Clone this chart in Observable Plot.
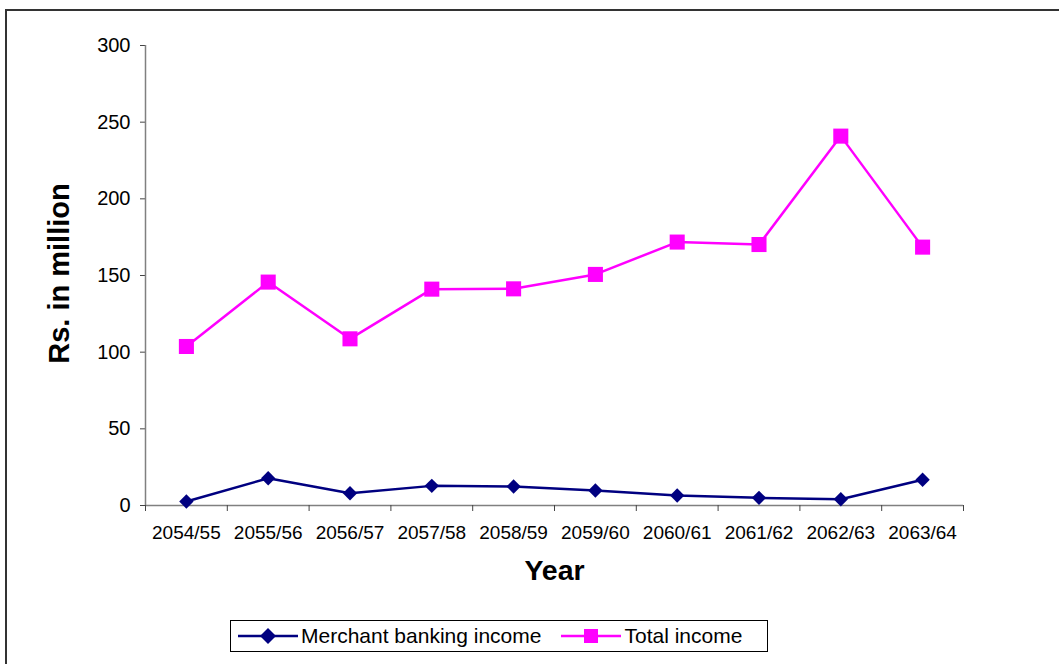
<!DOCTYPE html>
<html>
<head>
<meta charset="utf-8">
<script src="https://cdn.jsdelivr.net/npm/d3@7"></script>
<script src="https://cdn.jsdelivr.net/npm/@observablehq/plot@0.6"></script>
<style>
  html, body { margin: 0; padding: 0; background: #fff; }
  #wrap { position: relative; width: 1059px; height: 664px; overflow: hidden; font-family: "Liberation Sans", Arial, sans-serif; }
  #frame { position: absolute; left: 5px; top: 9px; width: 1200px; height: 800px; border-left: 2px solid #333; border-top: 2px solid #333; box-sizing: border-box; }
  #chart { position: absolute; left: 0; top: 0; }
  #legend { position: absolute; left: 230px; top: 620px; width: 538px; height: 32px; border: 1px solid #000; box-sizing: border-box; display: flex; align-items: center; font-size: 21px; color: #000; background: #fff; }
  #legend .item { display: flex; align-items: center; }
  #legend svg { display: block; }
</style>
</head>
<body>
<div id="wrap">
  <div id="frame"></div>
  <div id="chart"></div>
  <div id="legend"></div>
</div>
<script>
const years = ["2054/55","2055/56","2056/57","2057/58","2058/59","2059/60","2060/61","2061/62","2062/63","2063/64"];
const merchantIncome = [2.6, 17.8, 8.0, 12.8, 12.4, 9.8, 6.5, 5.0, 4.1, 16.8];
const totalIncome = [103.7, 145.7, 108.7, 141.1, 141.3, 150.7, 171.8, 170.2, 240.9, 168.5];
const yTicks = [0, 50, 100, 150, 200, 250, 300];
const seriesNames = ["Merchant banking income", "Total income"];
const seriesColors = ["#000080", "#FF00FF"];

const idx = years.map((_, i) => i);
const boundaries = d3.range(-0.5, years.length, 1);
const merchant = idx.map(i => ({i, v: merchantIncome[i]}));
const total = idx.map(i => ({i, v: totalIncome[i]}));

const diamond = {
  draw(context, size) {
    const r = Math.sqrt(size) / 2 * 1.35;
    context.moveTo(0, -r); context.lineTo(r, 0); context.lineTo(0, r); context.lineTo(-r, 0); context.closePath();
  }
};
const square = {
  draw(context, size) {
    const r = Math.sqrt(size) / 2;
    context.rect(-r, -r, 2 * r, 2 * r);
  }
};

const chart = Plot.plot({
  width: 1059,
  height: 610,
  marginLeft: 145,
  marginRight: 96,
  marginTop: 45,
  marginBottom: 105,
  style: { fontFamily: "'Liberation Sans', Arial, sans-serif", background: "transparent", color: "#000" },
  x: { type: "linear", domain: [-0.5, years.length - 0.5] },
  y: { domain: [0, 300] },
  marks: [
    Plot.axisY({ ticks: yTicks, tickSize: 5, tickPadding: 10, fontSize: 20, label: null, stroke: "#444" }),
    Plot.ruleX([0], { x: -0.5, y1: 0, y2: 300, stroke: "#808080", strokeWidth: 1.5 }),
    Plot.ruleY([0], { stroke: "#808080", strokeWidth: 1.5 }),
    Plot.axisX({ ticks: boundaries, tickFormat: () => "", tickSize: 6, label: null, stroke: "#444" }),
    Plot.axisX({ ticks: idx, tickFormat: i => years[i], tickSize: 0, tickPadding: 20, fontSize: 19, label: null }),
    Plot.text(["Rs. in million"], { frameAnchor: "left", textAnchor: "middle", rotate: -90, dx: -86, dy: -2, fontSize: 29, fontWeight: "bold" }),
    Plot.text(["Year"], { frameAnchor: "bottom", dy: 74, fontSize: 28.5, fontWeight: "bold" }),
    Plot.line(merchant, { x: "i", y: "v", stroke: seriesColors[0], strokeWidth: 2.5 }),
    Plot.dot(merchant, { x: "i", y: "v", symbol: diamond, r: 6, fill: seriesColors[0], stroke: null }),
    Plot.line(total, { x: "i", y: "v", stroke: seriesColors[1], strokeWidth: 2.5 }),
    Plot.dot(total, { x: "i", y: "v", symbol: square, r: 8.5, fill: seriesColors[1], stroke: null })
  ]
});
document.getElementById("chart").appendChild(chart);

// Legend
const legend = document.getElementById("legend");
const swatch = (color, shape) => {
  const svg = d3.create("svg").attr("width", 60).attr("height", 24);
  svg.append("line").attr("x1", 0).attr("x2", 60).attr("y1", 12).attr("y2", 12).attr("stroke", color).attr("stroke-width", 2.5);
  if (shape === "diamond") svg.append("path").attr("d", "M30,4L38,12L30,20L22,12Z").attr("fill", color);
  else svg.append("rect").attr("x", 23).attr("y", 5).attr("width", 14).attr("height", 14).attr("fill", color);
  return svg.node();
};
const shapes = ["diamond", "square"];
seriesNames.forEach((name, k) => {
  const item = document.createElement("div");
  item.className = "item";
  item.style.marginLeft = k === 0 ? "7px" : "20px";
  item.appendChild(swatch(seriesColors[k], shapes[k]));
  const t = document.createElement("span");
  t.textContent = name;
  t.style.marginLeft = "3px";
  item.appendChild(t);
  legend.appendChild(item);
});
</script>
</body>
</html>
